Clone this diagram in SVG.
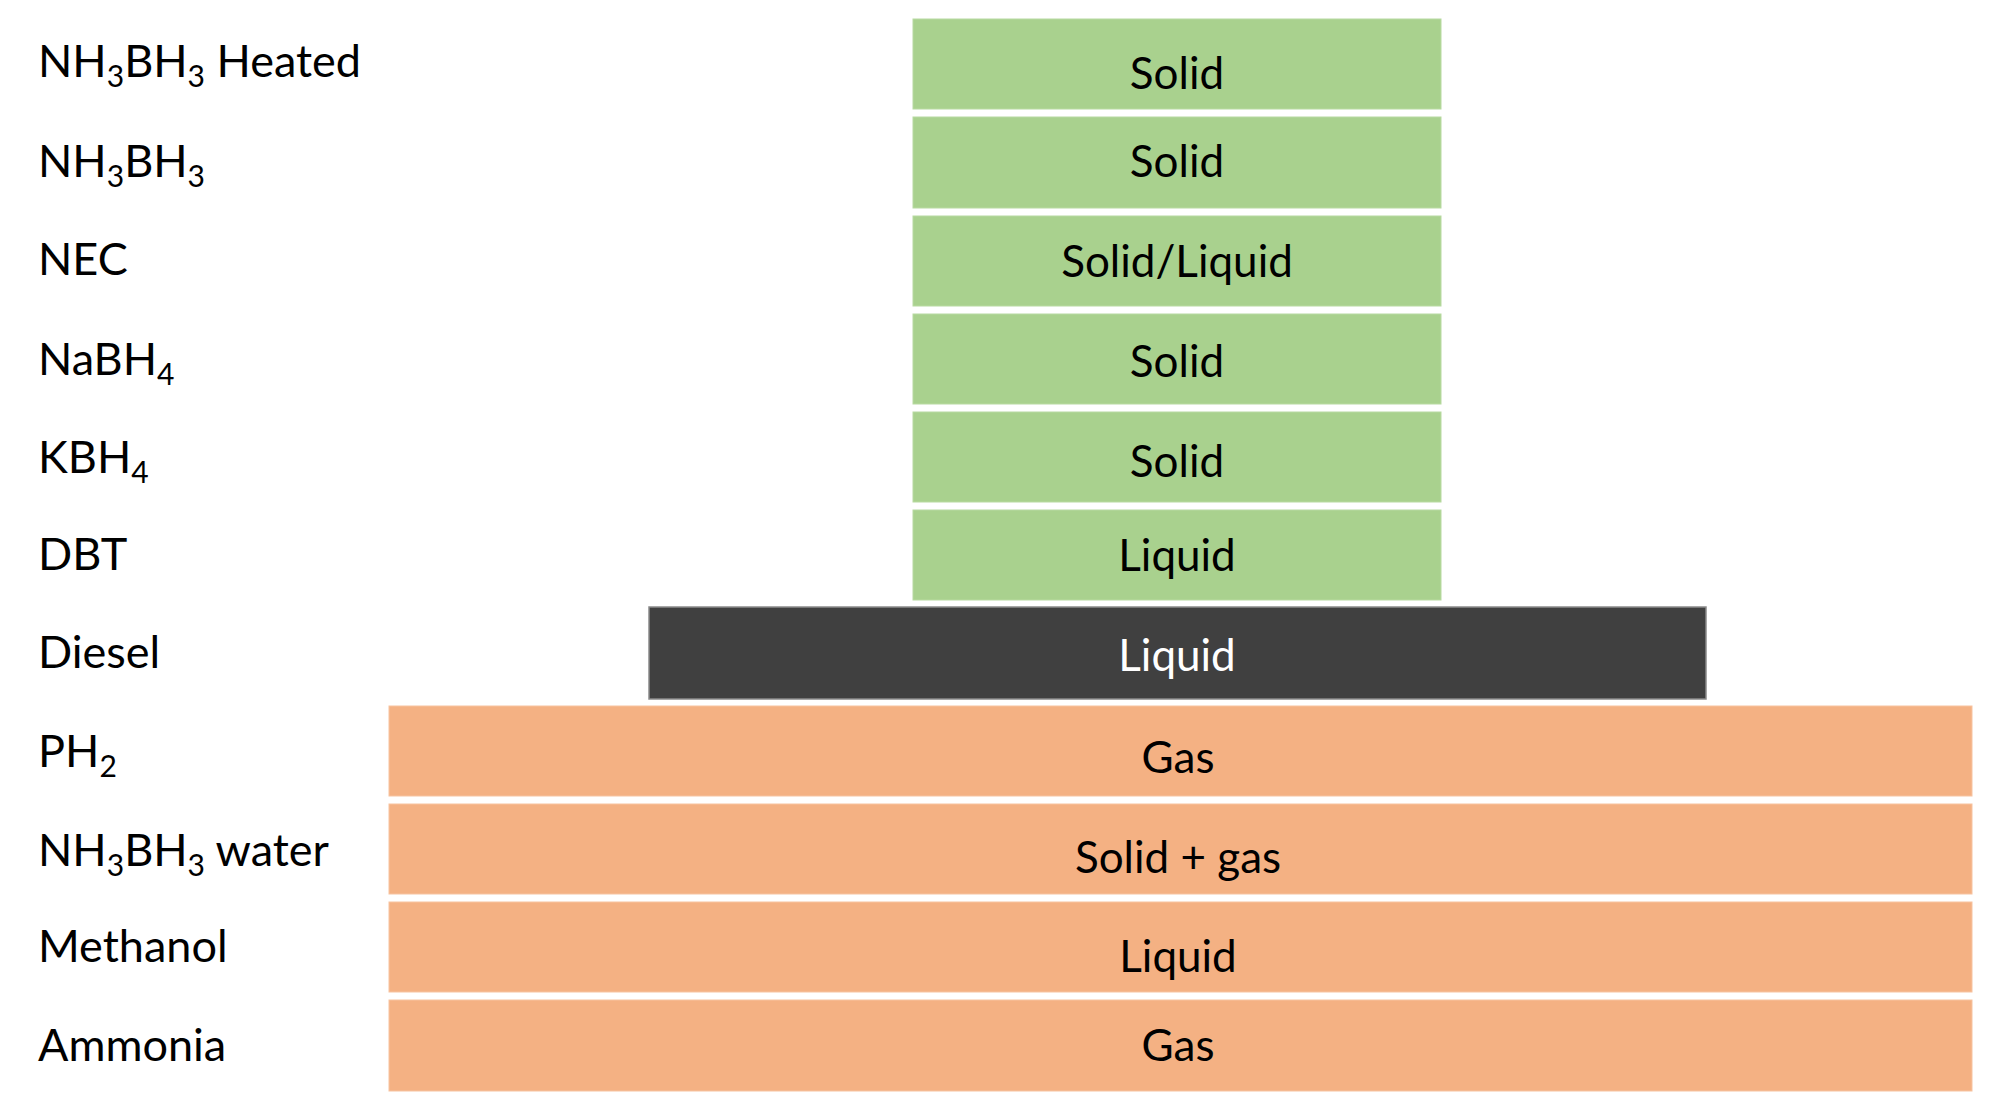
<svg xmlns="http://www.w3.org/2000/svg" width="1989" height="1112" viewBox="0 0 1989 1112">
<style>
.lbl{font-family:Lato,"Open Sans","Liberation Sans",sans-serif;font-size:45px;fill:#000}
.sub{font-size:30px}
.bt{font-family:Lato,"Open Sans","Liberation Sans",sans-serif;font-size:44px;fill:#000;text-anchor:middle}
.green{fill:#A9D18E;stroke:#B8DAA1;stroke-width:1}
.orange{fill:#F4B183;stroke:#F7C3A0;stroke-width:1}
.dark{fill:#404040;stroke:#8A8A8A;stroke-width:1.5}
</style>
<rect width="1989" height="1112" fill="#fff"/>
<g id="row-nh3bh3-heated">
<text class="lbl" x="38" y="77">NH<tspan class="sub" dy="10">3</tspan><tspan dy="-10">BH</tspan><tspan class="sub" dy="10">3</tspan><tspan dy="-10"> Heated</tspan></text>
<rect class="green" x="913" y="19" width="528" height="90"/>
<text class="bt" x="1177" y="89">Solid</text>
</g>
<g id="row-nh3bh3">
<text class="lbl" x="38" y="177">NH<tspan class="sub" dy="10">3</tspan><tspan dy="-10">BH</tspan><tspan class="sub" dy="10">3</tspan></text>
<rect class="green" x="913" y="117" width="528" height="91"/>
<text class="bt" x="1177" y="177">Solid</text>
</g>
<g id="row-nec">
<text class="lbl" x="38" y="275">NEC</text>
<rect class="green" x="913" y="216" width="528" height="90"/>
<text class="bt" x="1177" y="277">Solid/Liquid</text>
</g>
<g id="row-nabh4">
<text class="lbl" x="38" y="375">NaBH<tspan class="sub" dy="10">4</tspan></text>
<rect class="green" x="913" y="314" width="528" height="90"/>
<text class="bt" x="1177" y="377">Solid</text>
</g>
<g id="row-kbh4">
<text class="lbl" x="38" y="473">KBH<tspan class="sub" dy="10">4</tspan></text>
<rect class="green" x="913" y="412" width="528" height="90"/>
<text class="bt" x="1177" y="477">Solid</text>
</g>
<g id="row-dbt">
<text class="lbl" x="38" y="570">DBT</text>
<rect class="green" x="913" y="510" width="528" height="90"/>
<text class="bt" x="1177" y="571">Liquid</text>
</g>
<g id="row-diesel">
<text class="lbl" x="38" y="668">Diesel</text>
<rect class="dark" x="649" y="607" width="1057" height="92"/>
<text class="bt" x="1177" y="671" fill="#fff" style="fill:#fff">Liquid</text>
</g>
<g id="row-ph2">
<text class="lbl" x="38" y="767">PH<tspan class="sub" dy="10">2</tspan></text>
<rect class="orange" x="389" y="706" width="1583" height="90"/>
<text class="bt" x="1178" y="773">Gas</text>
</g>
<g id="row-nh3bh3-water">
<text class="lbl" x="38" y="866">NH<tspan class="sub" dy="10">3</tspan><tspan dy="-10">BH</tspan><tspan class="sub" dy="10">3</tspan><tspan dy="-10"> water</tspan></text>
<rect class="orange" x="389" y="804" width="1583" height="90"/>
<text class="bt" x="1178" y="873">Solid + gas</text>
</g>
<g id="row-methanol">
<text class="lbl" x="38" y="962">Methanol</text>
<rect class="orange" x="389" y="902" width="1583" height="90"/>
<text class="bt" x="1178" y="972">Liquid</text>
</g>
<g id="row-ammonia">
<text class="lbl" x="38" y="1061">Ammonia</text>
<rect class="orange" x="389" y="1000" width="1583" height="91"/>
<text class="bt" x="1178" y="1061">Gas</text>
</g>
</svg>
